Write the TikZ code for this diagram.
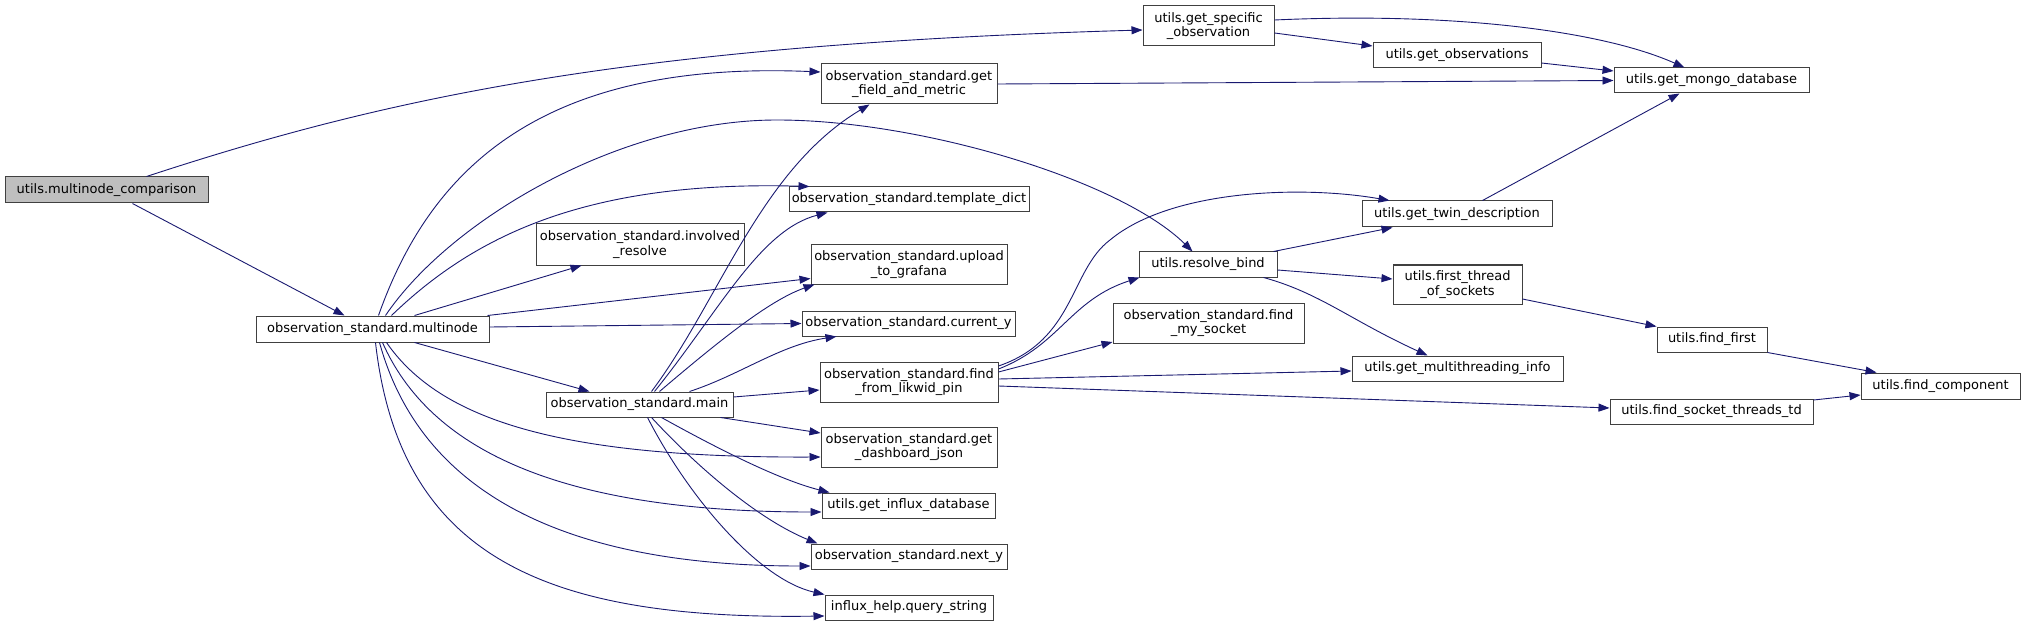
\documentclass[tikz,border=0pt]{standalone}
\usepackage{fontspec}
\setmainfont{DejaVu Sans}
\usetikzlibrary{arrows.meta}
\definecolor{edgeblue}{HTML}{191970}
\definecolor{rootfill}{HTML}{BFBFBF}
\definecolor{boxline}{HTML}{404040}
\newcommand{\nodefont}{\fontsize{13}{14.5}\selectfont}
\begin{document}
\begin{tikzpicture}[x=1pt,y=-1pt,
  fnbox/.style={draw=boxline, line width=1pt, fill=white, inner sep=0pt, font=\nodefont, align=center},
  rootbox/.style={fnbox, fill=rootfill},
  call/.style={draw=edgeblue, line width=0.9pt, -{Triangle[length=11pt,width=8pt]}}]
\useasboundingbox (0,0) rectangle (2025,628);
% nodes
\node[rootbox, minimum width=203pt, minimum height=26pt] (mc) at (106.5,190) {utils.multinode\_comparison};
\node[fnbox, minimum width=233pt, minimum height=26pt] (mn) at (372.5,329) {observation\_standard.multinode};
\node[fnbox, minimum width=131pt, minimum height=40pt] (gso) at (1208.5,26) {utils.get\_specific\\\_observation};
\node[fnbox, minimum width=176pt, minimum height=40pt] (gfm) at (909,84) {observation\_standard.get\\\_field\_and\_metric};
\node[fnbox, minimum width=240pt, minimum height=25pt] (td) at (909,199.5) {observation\_standard.template\_dict};
\node[fnbox, minimum width=208pt, minimum height=41pt] (ir) at (640,244.5) {observation\_standard.involved\\\_resolve};
\node[fnbox, minimum width=196pt, minimum height=39pt] (utg) at (909,264.5) {observation\_standard.upload\\\_to\_grafana};
\node[fnbox, minimum width=213pt, minimum height=25pt] (cy) at (908.5,323.5) {observation\_standard.current\_y};
\node[fnbox, minimum width=178pt, minimum height=40pt] (ffl) at (909,382) {observation\_standard.find\\\_from\_likwid\_pin};
\node[fnbox, minimum width=187pt, minimum height=25pt] (main) at (639.5,404.5) {observation\_standard.main};
\node[fnbox, minimum width=176pt, minimum height=40pt] (gdj) at (909,447) {observation\_standard.get\\\_dashboard\_json};
\node[fnbox, minimum width=173pt, minimum height=25pt] (gid) at (908.5,505.5) {utils.get\_influx\_database};
\node[fnbox, minimum width=196pt, minimum height=25pt] (ny) at (909,556.5) {observation\_standard.next\_y};
\node[fnbox, minimum width=168pt, minimum height=25pt] (qs) at (909,607.5) {influx\_help.query\_string};
\node[fnbox, minimum width=168pt, minimum height=25pt] (go) at (1457,55.5) {utils.get\_observations};
\node[fnbox, minimum width=195pt, minimum height=25pt] (mongo) at (1711.5,80.5) {utils.get\_mongo\_database};
\node[fnbox, minimum width=190pt, minimum height=26pt] (gtd) at (1457,214) {utils.get\_twin\_description};
\node[fnbox, minimum width=138pt, minimum height=25pt] (rb) at (1208,264.5) {utils.resolve\_bind};
\node[fnbox, minimum width=129pt, minimum height=39pt] (fts) at (1457.5,284.5) {utils.first\_thread\\\_of\_sockets};
\node[fnbox, minimum width=191pt, minimum height=40pt] (fms) at (1208.5,323) {observation\_standard.find\\\_my\_socket};
\node[fnbox, minimum width=211pt, minimum height=25pt] (gmi) at (1457.5,368.5) {utils.get\_multithreading\_info};
\node[fnbox, minimum width=110pt, minimum height=25pt] (ff) at (1712,339.5) {utils.find\_first};
\node[fnbox, minimum width=159pt, minimum height=26pt] (fc) at (1940.5,386) {utils.find\_component};
\node[fnbox, minimum width=203pt, minimum height=25pt] (fst) at (1711.5,411.5) {utils.find\_socket\_threads\_td};
% edges from multinode_comparison
\draw[call] ([xshift=142pt]mc.north west) .. controls (380,100) and (620,45) .. ([yshift=-4pt]gso.west);
\draw[call] ([xshift=128pt]mc.south west) -- ([xshift=89pt]mn.north west);
% gso
\draw[call] ([yshift=6pt]gso.east) .. controls (1450,12) and (1600,30) .. ([xshift=71pt]mongo.north west);
\draw[call] ([yshift=-7pt]gso.east) -- ([yshift=9.5pt]go.west);
\draw[call] ([yshift=-7.5pt]go.east) -- ([yshift=9.5pt]mongo.west);
\draw[call] (gfm.east) -- (mongo.west);
% multinode
\draw[call] ([xshift=123pt]mn.north west) .. controls (430,170) and (540,60) .. ([yshift=12pt]gfm.west);
\draw[call] ([xshift=130pt]mn.north west) .. controls (450,220) and (620,120) .. (777,120) .. controls (920,120) and (1120,180) .. ([xshift=54pt]rb.north west);
\draw[call] ([xshift=136pt]mn.north west) .. controls (470,240) and (580,180) .. ([xshift=21pt]td.north west);
\draw[call] ([xshift=159pt]mn.north west) -- ([xshift=46pt]ir.south west);
\draw[call] ([xshift=-2pt]mn.north east) -- ([yshift=6pt]utg.south west);
\draw[call] ([yshift=2pt]mn.east) -- (cy.west);
\draw[call] ([xshift=159pt]mn.south west) -- ([xshift=44pt]main.north west);
\draw[call] ([xshift=131pt]mn.south west) .. controls (440,420) and (560,458) .. ([yshift=-10pt]gdj.west);
\draw[call] ([xshift=127pt]mn.south west) .. controls (430,450) and (560,512) .. ([yshift=-6.5pt]gid.west);
\draw[call] ([xshift=124pt]mn.south west) .. controls (420,490) and (560,566) .. ([yshift=-9.5pt]ny.west);
\draw[call] ([xshift=120pt]mn.south west) .. controls (400,560) and (550,620) .. ([yshift=-8.5pt]qs.west);
% main
\draw[call] ([xshift=106pt]main.north west) .. controls (720,300) and (760,170) .. ([xshift=49pt]gfm.south west);
\draw[call] ([xshift=109pt]main.north west) .. controls (720,310) and (760,230) .. ([xshift=39pt]td.south west);
\draw[call] ([xshift=114pt]main.north west) .. controls (720,340) and (770,300) .. ([xshift=4pt]utg.south west);
\draw[call] ([xshift=144pt]main.north west) .. controls (740,375) and (780,345) .. ([xshift=35pt]cy.south west);
\draw[call] ([yshift=7.5pt]main.east) -- ([yshift=-8pt]ffl.west);
\draw[call] ([xshift=-13pt]main.south east) -- ([yshift=14pt]gdj.west);
\draw[call] ([xshift=116pt]main.south west) .. controls (720,450) and (780,480) .. ([xshift=8pt]gid.north west);
\draw[call] ([xshift=106pt]main.south west) .. controls (700,470) and (760,520) .. ([xshift=7pt]ny.north west);
\draw[call] ([xshift=102pt]main.south west) .. controls (690,500) and (760,580) .. (qs.north west);
% find_from_likwid_pin
\draw[call] ([yshift=16pt]ffl.east) .. controls (1075,340) and (1070,270) .. (1110,240) .. controls (1170,190) and (1300,185) .. ([xshift=28pt]gtd.north west);
\draw[call] ([yshift=13pt]ffl.east) .. controls (1060,345) and (1070,300) .. ([xshift=1pt]rb.south west);
\draw[call] ([yshift=10pt]ffl.east) -- ([yshift=-19pt]fms.west);
\draw[call] ([yshift=3pt]ffl.east) -- ([yshift=-2.5pt]gmi.west);
\draw[call] ([yshift=-4pt]ffl.east) -- ([yshift=3.5pt]fst.west);
% resolve_bind
\draw[call] ([xshift=-4pt]rb.north east) -- ([xshift=31pt]gtd.south west);
\draw[call] ([yshift=-5.5pt]rb.east) -- ([yshift=5.5pt]fts.west);
\draw[call] ([xshift=-14pt]rb.south east) .. controls (1320,293) and (1350,320) .. ([xshift=76pt]gmi.north west);
% others
\draw[call] ([xshift=121pt]gtd.north west) -- ([xshift=66pt]mongo.south west);
\draw[call] ([yshift=-14.5pt]fts.east) -- (ff.north west);
\draw[call] (ff.south east) -- ([xshift=16pt]fc.north west);
\draw[call] ([yshift=11.5pt]fst.east) -- ([yshift=-9pt]fc.west);
\end{tikzpicture}
\end{document}
